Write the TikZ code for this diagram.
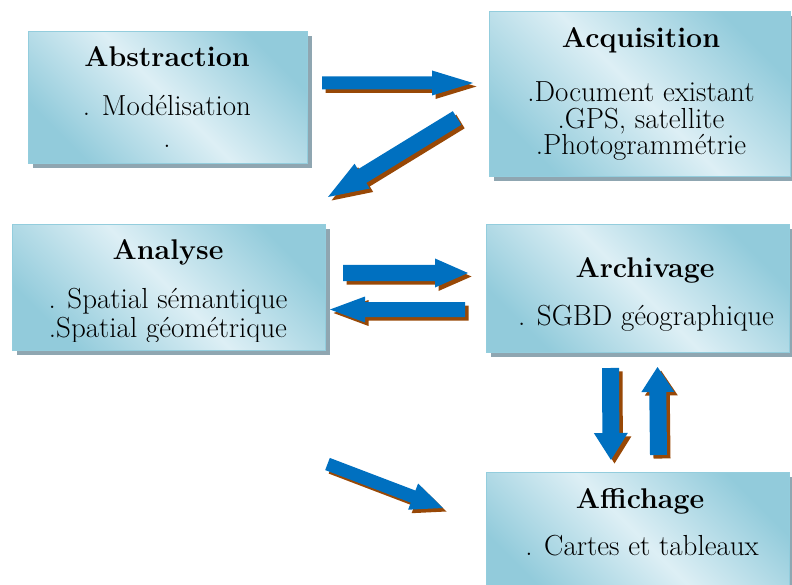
\documentclass[tikz,border=0pt]{standalone}
\usepackage{fontspec}
\usetikzlibrary{calc,shadows}

\definecolor{arrowblue}{HTML}{0070C0}
\definecolor{arrowshade}{HTML}{984806}
\definecolor{boxedge}{HTML}{93CDDD}
\definecolor{boxdark}{HTML}{92CBDB}
\definecolor{boxlight}{HTML}{DDEFF5}
\definecolor{boxshadow}{HTML}{8FA6B1}

\tikzset{
  panel/.style={draw=boxedge, line width=1.2pt, inner sep=0pt, anchor=north west,
    top color=boxdark, bottom color=boxdark, middle color=boxlight, shading angle=-45,
    drop shadow={shadow xshift=4pt, shadow yshift=-4pt, fill=boxshadow, opacity=1}},
  title/.style={anchor=base, inner sep=0pt, font=\fontsize{28.5}{32}\selectfont\bfseries},
  item/.style={anchor=base, inner sep=0pt, font=\fontsize{29}{33}\selectfont},
  blockarrow/.style={fill=arrowblue,
    preaction={fill=arrowshade, transform canvas={xshift=3.5pt, yshift=-3.5pt}}},
}

% block arrow: tail, tip, half shaft width, half head width, head length
\newcommand\flowarrow[5]{%
  \coordinate (#1-h) at ($(#2)!#5!(#1)$);
  \path[blockarrow] ($(#1)!#3!90:(#2)$) -- ($(#1-h)!#3!90:(#2)$)
    -- ($(#1-h)!#4!90:(#2)$) -- (#2) -- ($(#1-h)!#4!-90:(#2)$)
    -- ($(#1-h)!#3!-90:(#2)$) -- ($(#1)!#3!-90:(#2)$) -- cycle;}

\begin{document}
\begin{tikzpicture}[x=1pt, y=-1pt]
\useasboundingbox (0,0) rectangle (792,585);

% panels
\node[panel, minimum width=279pt, minimum height=132pt] (abs) at (28,31) {};
\node[panel, minimum width=301pt, minimum height=165pt] (acq) at (489,11) {};
\node[panel, minimum width=313pt, minimum height=126pt] (ana) at (12,224) {};
\node[panel, minimum width=303pt, minimum height=128pt] (arc) at (486,224) {};
\node[panel, minimum width=303pt, minimum height=125pt] (aff) at (486,472) {};

% texts
\node[title] (absT) at (167,67) {Abstraction};
\node[item] (absA) at (167,116) {. Modélisation};
\node[item] (absB) at (167,148) {.};

\node[title] (acqT) at (641,48) {Acquisition};
\node[item] (acqA) at (641,102) {.Document existant};
\node[item] (acqB) at (641,128.5) {.GPS, satellite};
\node[item] (acqC) at (641,155) {.Photogrammétrie};

\begin{scope}
  \clip (12,224) rectangle (325,341);
  \node[title] (anaT) at (168,260) {Analyse};
  \node[item] (anaA) at (168,308) {. Spatial sémantique};
  \node[item] (anaB) at (168,337) {.Spatial géométrique};
\end{scope}

\node[title] (arcT) at (645,277) {Archivage};
\node[item] (arcA) at (646,325) {. SGBD géographique};

\node[title] (affT) at (640,508) {Affichage};
\node[item] (affA) at (642,555) {. Cartes et tableaux};

% arrow end points
\coordinate (a1t) at (322,83);    \coordinate (a1p) at (473,83);
\coordinate (a2t) at (457,118);   \coordinate (a2p) at (328,197);
\coordinate (a3t) at (343,273);   \coordinate (a3p) at (468,273);
\coordinate (a4t) at (465,309.5); \coordinate (a4p) at (330,309.5);
\coordinate (a5t) at (610.5,368); \coordinate (a5p) at (611,460);
\coordinate (a6t) at (658.5,455); \coordinate (a6p) at (657.5,367);
\coordinate (a7t) at (327.5,464); \coordinate (a7p) at (443,508);

\flowarrow{a1t}{a1p}{6.5pt}{12.5pt}{41pt}
\flowarrow{a2t}{a2p}{8pt}{14.5pt}{40pt}
\flowarrow{a3t}{a3p}{8pt}{14.5pt}{33pt}
\flowarrow{a4t}{a4p}{7.5pt}{13pt}{35pt}
\flowarrow{a5t}{a5p}{8.5pt}{17pt}{27pt}
\flowarrow{a6t}{a6p}{8.5pt}{16.5pt}{25pt}
\flowarrow{a7t}{a7p}{6.5pt}{14pt}{32pt}
\end{tikzpicture}
\end{document}
